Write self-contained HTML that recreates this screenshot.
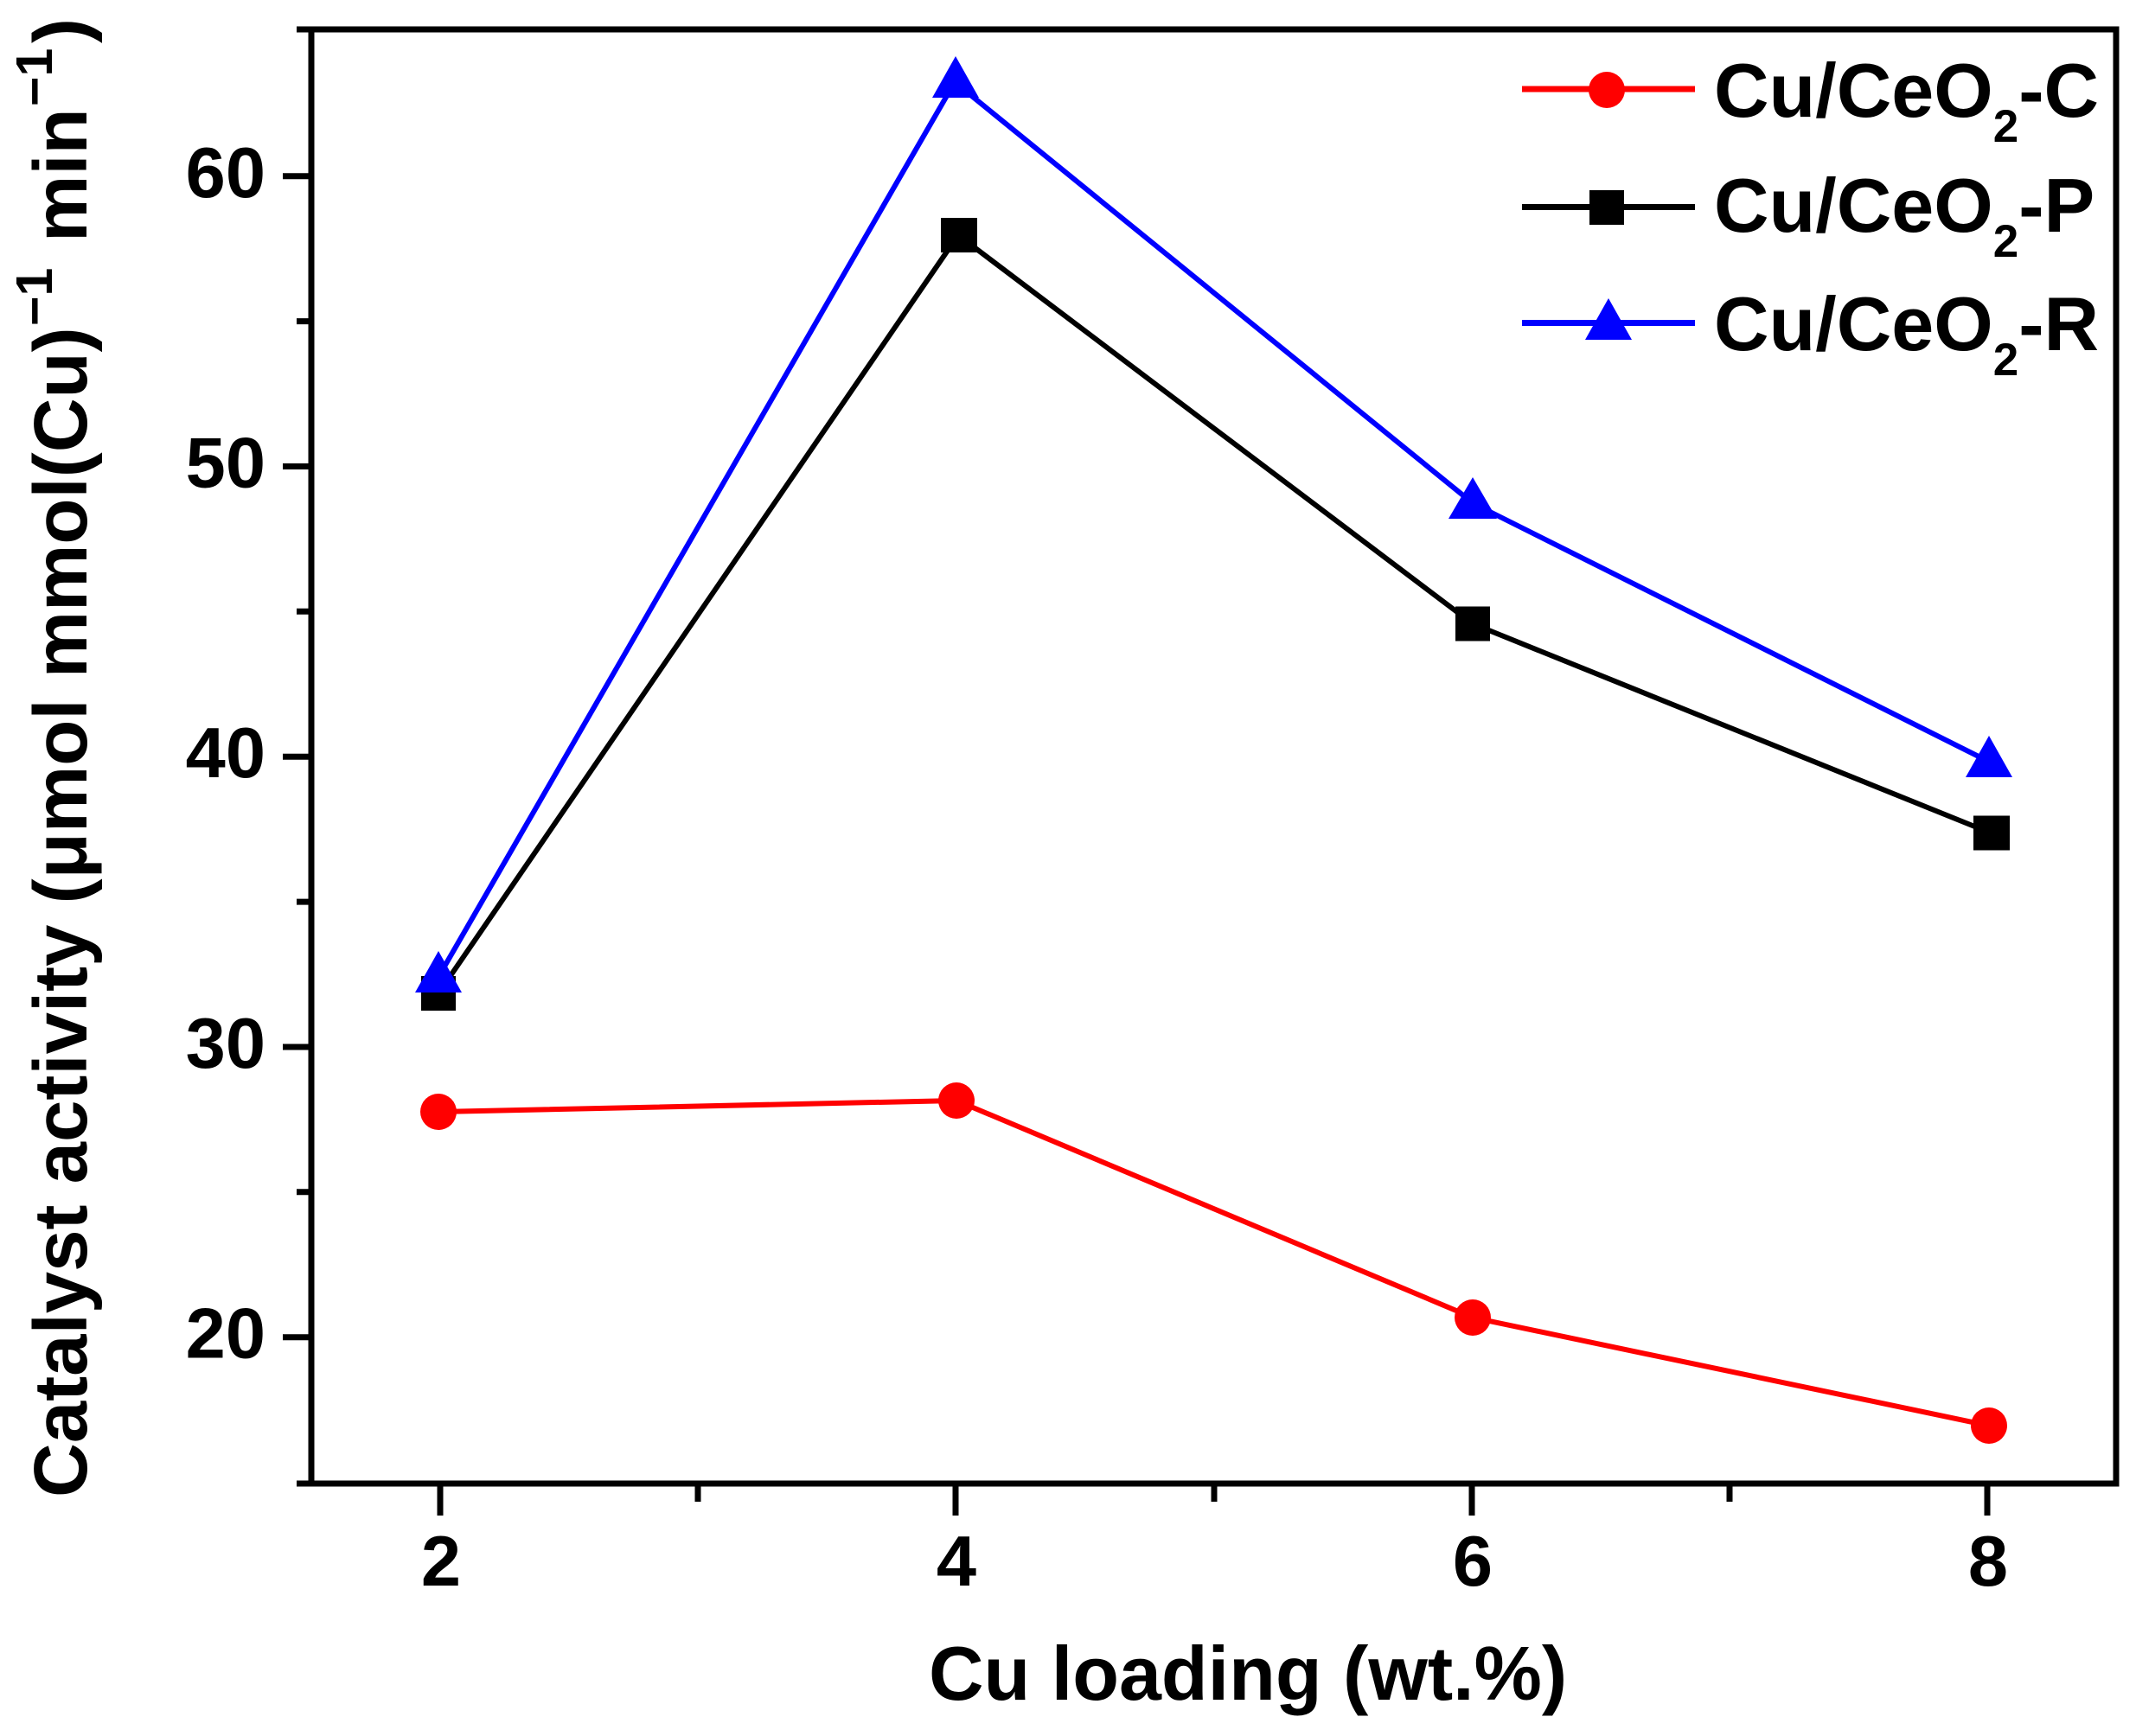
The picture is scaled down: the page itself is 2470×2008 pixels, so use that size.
<!DOCTYPE html>
<html>
<head>
<meta charset="utf-8">
<style>
html,body{margin:0;padding:0;background:#fff;}
svg{display:block;}
text{font-family:"Liberation Sans",Arial,sans-serif;font-weight:bold;fill:#000;}
</style>
</head>
<body>
<svg width="2470" height="2008" viewBox="0 0 2470 2008" xmlns="http://www.w3.org/2000/svg">
<rect x="0" y="0" width="2470" height="2008" fill="#fff"/>

<!-- axes frame -->
<rect x="360" y="34" width="2087" height="1682" fill="none" stroke="#000" stroke-width="7"/>

<!-- y ticks major -->
<g stroke="#000" stroke-width="7">
<line x1="327" y1="203.7" x2="360" y2="203.7"/>
<line x1="327" y1="539.5" x2="360" y2="539.5"/>
<line x1="327" y1="875.2" x2="360" y2="875.2"/>
<line x1="327" y1="1211" x2="360" y2="1211"/>
<line x1="327" y1="1546.7" x2="360" y2="1546.7"/>
<!-- minor -->
<line x1="343" y1="34" x2="360" y2="34"/>
<line x1="343" y1="371.6" x2="360" y2="371.6"/>
<line x1="343" y1="707.3" x2="360" y2="707.3"/>
<line x1="343" y1="1043.1" x2="360" y2="1043.1"/>
<line x1="343" y1="1378.8" x2="360" y2="1378.8"/>
<line x1="343" y1="1716" x2="360" y2="1716"/>
<!-- x ticks major -->
<line x1="509" y1="1716" x2="509" y2="1753"/>
<line x1="1105" y1="1716" x2="1105" y2="1753"/>
<line x1="1702" y1="1716" x2="1702" y2="1753"/>
<line x1="2298" y1="1716" x2="2298" y2="1753"/>
<!-- x minor -->
<line x1="807" y1="1716" x2="807" y2="1737"/>
<line x1="1404" y1="1716" x2="1404" y2="1737"/>
<line x1="2000" y1="1716" x2="2000" y2="1737"/>
</g>

<!-- y tick labels -->
<g font-size="83" text-anchor="end">
<text x="307" y="228">60</text>
<text x="307" y="563.5">50</text>
<text x="307" y="899.2">40</text>
<text x="307" y="1235">30</text>
<text x="307" y="1570.7">20</text>
</g>
<!-- x tick labels -->
<g font-size="83" text-anchor="middle">
<text x="510" y="1834">2</text>
<text x="1106" y="1834">4</text>
<text x="1703" y="1834">6</text>
<text x="2299" y="1834">8</text>
</g>

<!-- axis titles -->
<text x="1074" y="1966" font-size="88">Cu loading (wt.%)</text>
<text transform="translate(100,1732) rotate(-90)" font-size="87">
<tspan x="0" y="0">Catalyst activity (μmol mmol(Cu)</tspan><tspan x="1355" y="-40" font-size="59">−1</tspan><tspan x="1452" y="0">min</tspan><tspan x="1609" y="-40" font-size="59">−1</tspan><tspan x="1682" y="0">)</tspan>
</text>

<!-- series: red C -->
<polyline points="507,1286 1106,1273 1703,1524 2300,1649" fill="none" stroke="#ff0000" stroke-width="6" stroke-linejoin="round"/>
<g fill="#ff0000">
<circle cx="507" cy="1286" r="21"/>
<circle cx="1106" cy="1273" r="21"/>
<circle cx="1703" cy="1524" r="21"/>
<circle cx="2300" cy="1649" r="21"/>
</g>

<!-- series: black P -->
<polyline points="507,1149 1108,272 1703,721.5 2302,963.5" fill="none" stroke="#000" stroke-width="6" stroke-linejoin="round"/>
<g fill="#000">
<rect x="487" y="1129" width="40" height="40"/>
<rect x="1088" y="252" width="42" height="40"/>
<rect x="1683" y="701.5" width="40" height="40"/>
<rect x="2282" y="943.5" width="42" height="40"/>
</g>

<!-- series: blue R -->
<polyline points="507,1130 1104,95 1703,582 2300,881" fill="none" stroke="#0000ff" stroke-width="6" stroke-linejoin="round"/>
<g fill="#0000ff">
<polygon points="507,1100 534,1148 480,1148"/>
<polygon points="1105,65 1132,113 1078,113"/>
<polygon points="1703,552 1731,600 1675,600"/>
<polygon points="2300,851 2327,899 2273,899"/>
</g>

<!-- legend -->
<line x1="1760" y1="103" x2="1960" y2="103" stroke="#ff0000" stroke-width="7"/>
<circle cx="1858" cy="104" r="21" fill="#ff0000"/>
<line x1="1760" y1="239.5" x2="1960" y2="239.5" stroke="#000" stroke-width="7"/>
<rect x="1838" y="220" width="40" height="40" fill="#000"/>
<line x1="1760" y1="373.5" x2="1960" y2="373.5" stroke="#0000ff" stroke-width="7"/>
<polygon points="1860,345 1887,393 1833,393" fill="#0000ff"/>

<g font-size="88">
<text x="1982" y="135">Cu/CeO<tspan dy="29" font-size="53">2</tspan><tspan dy="-29">-C</tspan></text>
<text x="1982" y="268">Cu/CeO<tspan dy="29" font-size="53">2</tspan><tspan dy="-29">-P</tspan></text>
<text x="1982" y="405">Cu/CeO<tspan dy="29" font-size="53">2</tspan><tspan dy="-29">-R</tspan></text>
</g>
</svg>
</body>
</html>
